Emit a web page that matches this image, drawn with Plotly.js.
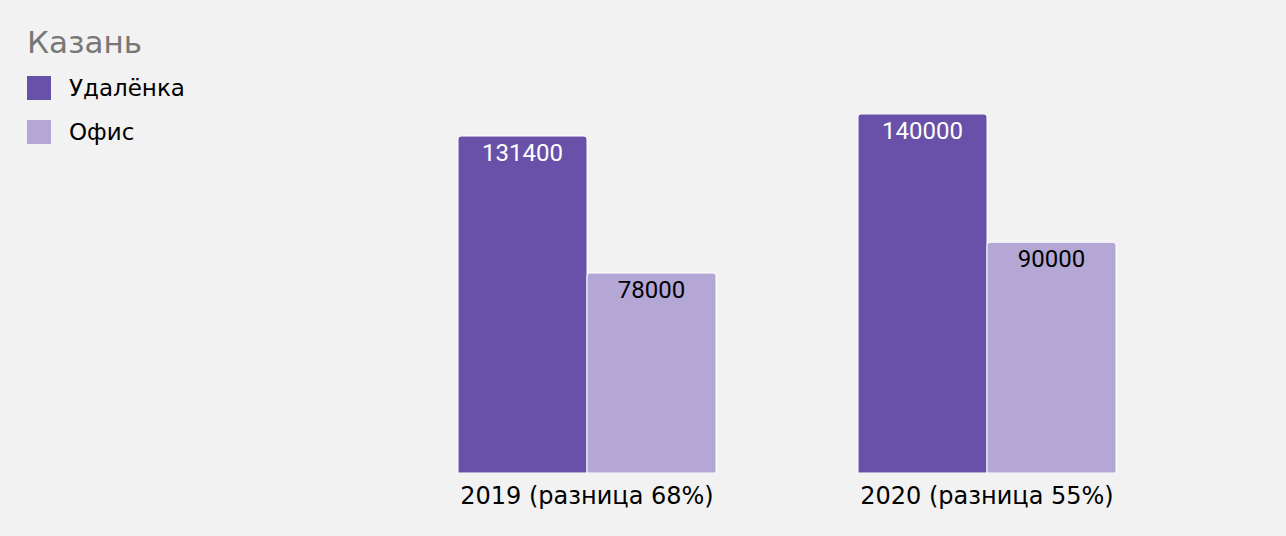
<!DOCTYPE html>
<html><head><meta charset="utf-8">
<script src="https://cdn.plot.ly/plotly-3.0.1.min.js"></script>
<style>body{margin:0;background:#f2f2f2;}#chart{width:1286px;height:536px;}</style>
</head><body><div id="chart"></div>
<script>
const categories = ["2019 (разница 68%)", "2020 (разница 55%)"];
const remoteValues = [131400, 140000];
const officeValues = [78000, 90000];
const seriesNames = ["Удалёнка", "Офис"];
const colors = ["#6950a8", "#b4a7d6"];

const W = 1286, H = 536;
const M = {l: 387, r: 99, t: 114, b: 63};
const plotW = W - M.l - M.r, plotH = H - M.t - M.b;

const barBase = {
  type: 'bar', x: categories, textposition: 'inside', insidetextanchor: 'end',
  showlegend: false, hoverinfo: 'skip', constraintext: 'none', textangle: 0
};
const data = [
  Object.assign({}, barBase, {y: remoteValues, text: remoteValues.map(String), name: seriesNames[0],
    marker: {color: colors[0], cornerradius: 3, line: {color: '#ffffff', width: 1}},
    textfont: {family: 'Roboto', size: 24, color: '#ffffff'}}),
  Object.assign({}, barBase, {y: officeValues, text: officeValues.map(String), name: seriesNames[1],
    marker: {color: colors[1], cornerradius: 3, line: {color: '#ffffff', width: 1}},
    textfont: {family: 'Roboto', size: 24, color: '#000000'}})
];

// Custom legend (large rounded swatches) built from seriesNames / colors
const legendTop = 76, legendStep = 44, sw = 24, swLeft = 27, textLeft = 67;
const shapes = [], annotations = [];
seriesNames.forEach((name, i) => {
  const top = legendTop + i * legendStep;
  shapes.push({type: 'rect', xref: 'paper', yref: 'paper',
    xsizemode: 'pixel', ysizemode: 'pixel', xanchor: 0, yanchor: 1,
    x0: swLeft - M.l, x1: swLeft - M.l + sw, y0: M.t - top - sw, y1: M.t - top,
    fillcolor: colors[i], line: {width: 0}, layer: 'above'});
  annotations.push({text: name, xref: 'paper', yref: 'paper',
    x: (textLeft - M.l) / plotW, xanchor: 'left',
    y: (H - M.b - (top + sw / 2)) / plotH, yanchor: 'middle',
    showarrow: false, font: {family: 'DejaVu Sans', size: 23, color: '#000000'}});
});

const layout = {
  width: W, height: H,
  paper_bgcolor: '#f2f2f2', plot_bgcolor: '#f2f2f2',
  margin: M, showlegend: false,
  barmode: 'group', bargap: 0.355, bargroupgap: 0,
  font: {family: 'DejaVu Sans', color: '#000000'},
  title: {text: 'Казань', x: 27/W, xanchor: 'left', xref: 'container',
    y: 1 - 42/H, yanchor: 'middle', yref: 'container',
    font: {family: 'DejaVu Sans', size: 31, color: '#777777'}},
  shapes: shapes, annotations: annotations,
  xaxis: {type: 'category', showgrid: false, zeroline: false, showline: false, ticks: '',
    ticklabelstandoff: 6,
    tickfont: {family: 'DejaVu Sans', size: 24, color: '#000000'}, fixedrange: true},
  yaxis: {range: [0, 140000], visible: false, showgrid: false, zeroline: false, fixedrange: true}
};
Plotly.newPlot('chart', data, layout, {staticPlot: true, displayModeBar: false});
</script></body></html>
